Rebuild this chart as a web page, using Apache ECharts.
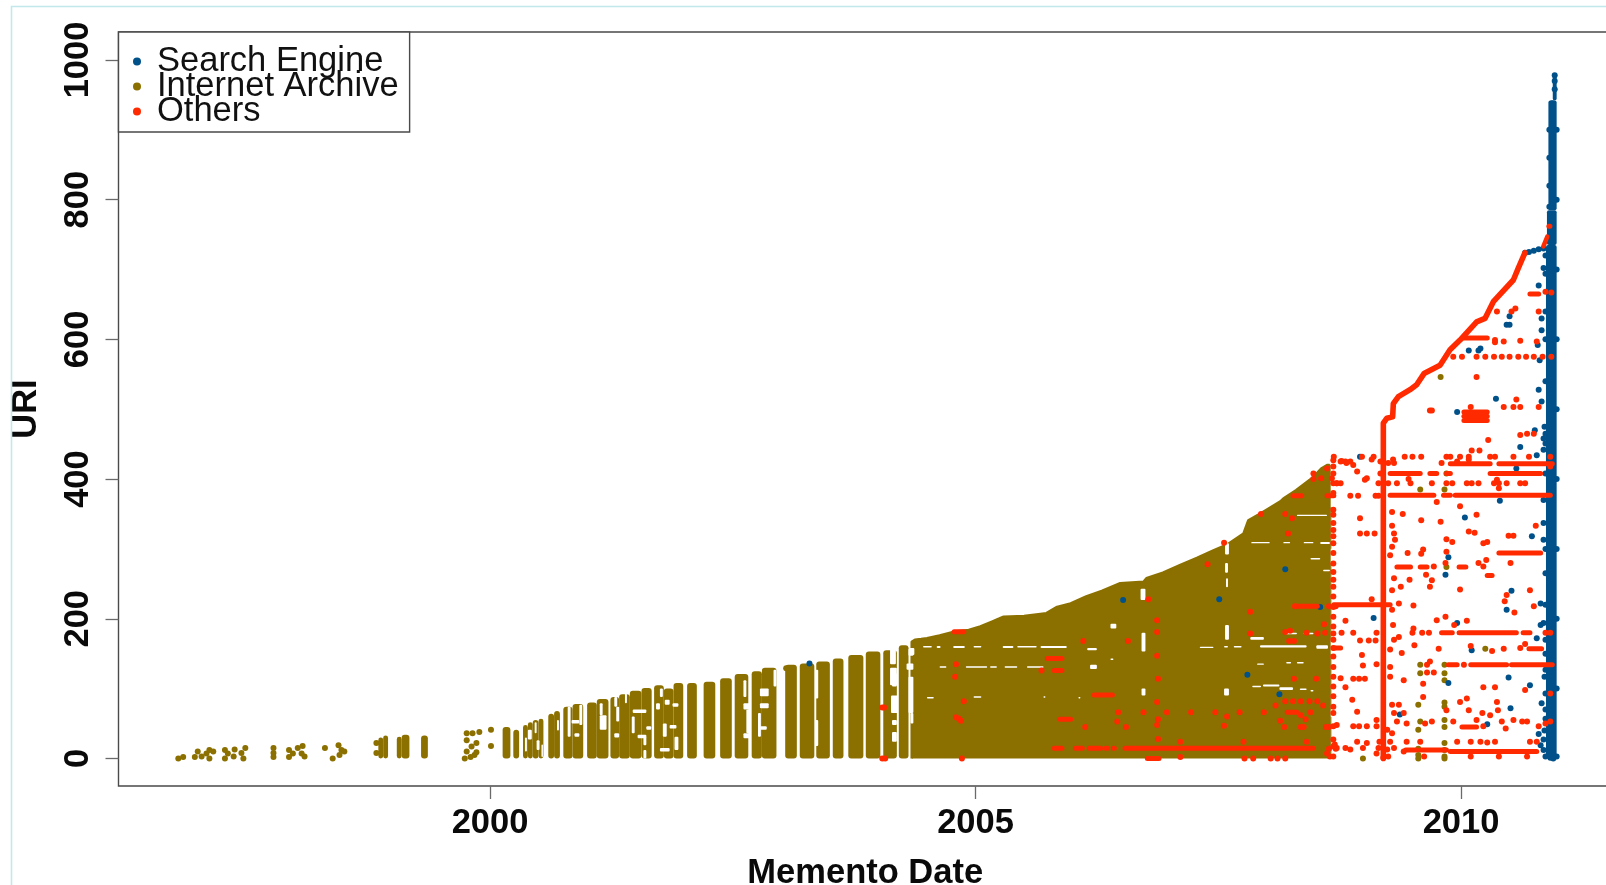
<!DOCTYPE html>
<html>
<head>
<meta charset="utf-8">
<script src="https://cdn.jsdelivr.net/npm/echarts@6/dist/echarts.min.js"></script>
<style>html,body{margin:0;padding:0;background:#fff}#c{width:1606px;height:885px;filter:blur(0.55px)}</style>
</head>
<body>
<div id="c"></div>
<script>
const yearTicks = [2000, 2005, 2010];
const uriTicks = [0, 200, 400, 600, 800, 1000];
const xTitle = 'Memento Date';
const yTitle = 'URI';

// Upper edge of the solid Internet Archive mass: [year, uri]
const archiveEdge = [[2004.343,0],[2004.343,167],[2004.376,170],[2004.44,171],[2004.50,172],[2004.63,176],[2004.77,181],[2004.81,182],[2004.93,184],[2005.05,189],[2005.17,196],[2005.24,200],[2005.29,203],[2005.50,204],[2005.73,208],[2005.84,217],[2005.98,222],[2006.14,232],[2006.30,240],[2006.49,251],[2006.73,253],[2006.76,258],[2006.93,266],[2007.11,277],[2007.28,287],[2007.45,298],[2007.60,307],[2007.76,322],[2007.81,341],[2007.95,352],[2008.14,368],[2008.17,372],[2008.30,384],[2008.48,403],[2008.56,415],[2008.62,420],[2008.645,420],[2008.645,0]];
// Internet Archive strips: [yearFrom, yearTo, uriFrom, uriTo]
const archiveStrips = [
[1998.85,1998.90,0,30],[1998.90,1998.95,0,33],[1999.04,1999.09,0,31],[1999.09,1999.17,0,34],[1999.29,1999.36,0,33],
[2000.13,2000.21,0,45],[2000.24,2000.30,0,41],[2000.34,2000.39,0,48],[2000.39,2000.44,0,52],[2000.44,2000.50,0,55],[2000.50,2000.55,0,57],
[2000.60,2000.66,0,64],[2000.66,2000.72,0,68],[2000.755,2000.85,0,74],[2000.85,2000.96,0,78],[2001.00,2001.10,0,80],[2001.10,2001.22,0,85],[2001.24,2001.33,0,88],[2001.33,2001.44,0,92],[2001.44,2001.56,0,97],[2001.56,2001.665,0,101],
[2001.69,2001.79,0,105],[2001.79,2001.89,0,100],[2001.89,2001.99,0,108],[2002.03,2002.13,0,108],[2002.20,2002.32,0,110],[2002.37,2002.49,0,115],[2002.52,2002.66,0,121],
[2002.695,2002.80,0,125],[2002.80,2002.95,0,130],[2003.04,2003.16,0,134],[2003.19,2003.34,0,136],[2003.36,2003.50,0,139],[2003.53,2003.64,0,143],
[2003.69,2003.845,0,148],[2003.87,2004.02,0,153],[2004.05,2004.19,0,155],[2004.21,2004.31,0,162],
[2008.655,2008.665,2,60],[2008.655,2008.665,70,150],[2008.655,2008.665,170,280],[2008.655,2008.665,300,360]
];
// Gaps seen inside the Internet Archive mass: [yearFrom, yearTo, uriFrom, uriTo]
const archiveGaps = [
[2000.39,2000.43,27,41],[2000.48,2000.51,12,26],[2000.84,2000.92,50,55],[2000.87,2000.92,31,36],[2001.13,2001.20,41,62],[2001.30,2001.33,53,74],[2001.28,2001.33,30,36],[2001.47,2001.61,65,70],[2001.52,2001.61,29,34],[2001.61,2001.66,41,46],[2001.58,2001.61,0,12],[2001.75,2001.85,10,15],[2001.80,2001.85,77,84],[2001.85,2001.92,43,48],[2001.75,2001.78,88,100],
[2000.80,2000.83,31,74],[2000.92,2000.95,48,77],[2001.13,2001.16,62,79],[2001.28,2001.31,74,88],[2001.39,2001.41,79,93],[2001.46,2001.49,36,60],[2001.58,2001.61,19,31],[2001.71,2001.75,70,79],[2001.78,2001.82,31,50],[2001.88,2001.94,74,79],[2001.90,2001.94,12,31],[2000.46,2000.48,36,52],[2000.36,2000.38,10,30],[2000.53,2000.545,2,20],[2000.69,2000.71,40,55],
[2002.78,2002.87,89,100],[2002.78,2002.87,72,79],[2002.61,2002.68,70,79],[2002.61,2002.68,29,36],[2002.78,2002.85,41,46],[2002.61,2002.64,88,112],[2002.64,2002.67,36,70],[2002.92,2002.95,103,127],[2002.76,2002.79,31,65],[2003.35,2003.38,86,127],[2003.35,2003.38,18,55],[2004.14,2004.19,103,122],[2004.14,2004.19,48,55],[2004.14,2004.19,24,38],[2004.32,2004.37,148,158],[2004.29,2004.36,127,136],[2004.33,2004.36,50,65],
[2004.46,2004.55,159,161],[2004.60,2004.64,158,161],[2004.77,2004.89,158,161],[2004.98,2005.06,159,161],[2005.28,2005.39,158,161],[2005.43,2005.63,159,161],[2005.67,2005.94,158,161],[2006.15,2006.25,155,158],[2007.31,2007.45,158,160],[2007.56,2007.60,159,161],[2007.66,2007.74,159,161],[2007.93,2008.41,159,162],[2008.51,2008.63,157,162],
[2004.63,2004.70,130,132],[2004.90,2005.12,130,132],[2005.15,2005.22,130,132],[2005.30,2005.43,130,132],[2005.53,2005.70,130,132],[2006.18,2006.25,128,134],[2006.39,2006.42,141,143],[2007.90,2007.97,134,136],[2008.20,2008.25,136,138],[2008.31,2008.38,136,138],
[2004.50,2004.57,86,88],[2004.98,2005.06,87,89],[2005.70,2005.72,87,89],[2006.06,2006.08,86,88],[2006.71,2006.75,90,100],[2007.56,2007.61,90,100],
[2007.84,2008.03,308,310],[2008.17,2008.24,308,310],[2008.38,2008.48,308,310],[2008.55,2008.65,307,310],[2008.45,2008.55,285,287],[2008.58,2008.65,268,270],[2008.31,2008.62,347,349],
[2007.83,2007.97,170,174],[2008.19,2008.31,178,180],[2008.38,2008.48,178,180],
[2007.85,2007.94,102,104],[2007.96,2008.13,103,106],[2008.13,2008.27,98,102],[2008.34,2008.41,98,100],[2008.45,2008.48,96,98],
[2004.12,2004.18,135,165],[2004.12,2004.19,105,130],[2004.13,2004.20,65,90],[2004.15,2004.18,27,33],[2004.31,2004.36,147,157],[2004.31,2004.36,65,117],
[2006.70,2006.75,227,243],[2006.71,2006.75,153,180],[2006.39,2006.45,186,193],[2007.57,2007.61,292,308],[2007.57,2007.60,266,280],[2007.58,2007.60,245,258],[2007.57,2007.61,170,191]
];
// Scattered Internet Archive points: [year, uri]
const archivePoints = [[1996.79,0],[1996.84,2],[1996.96,2],[1996.99,10],[1997.03,3],[1997.08,7],[1997.11,12],[1997.11,0],[1997.15,10],[1997.27,12],[1997.27,0],[1997.30,7],[1997.37,13],[1997.36,3],[1997.44,8],[1997.46,0],[1997.48,15],[1997.77,15],[1997.77,8],[1997.77,2],[1997.93,12],[1997.93,2],[1997.97,7],[1998.02,15],[1998.06,7],[1998.07,18],[1998.09,3],[1998.30,15],[1998.38,0],[1998.44,19],[1998.47,12],[1998.50,10],[1998.45,5],[1998.83,22],[1998.83,8],
[1999.76,36],[1999.76,26],[1999.81,17],[1999.74,0],[1999.84,5],[1999.89,38],[2000.01,41],[2000.01,18],[1999.82,36],[1999.86,22],[1999.76,10],[1999.80,2],[1999.86,9],
[2003.05,129],[2008.99,0],
[2009.58,385],[2009.83,385],[2009.85,408],[2009.85,274],[2009.58,134],[2009.83,134],[2009.58,122],[2009.83,122],[2009.83,112],[2009.56,77],[2009.83,80],[2009.83,74],[2009.58,53],[2009.83,55],[2009.83,45],[2009.56,41],[2010.25,157],[2009.56,14],[2009.56,5],[2009.56,0],[2009.83,22],[2009.83,12],[2009.83,3],[2009.83,0],[2009.79,546]];

// Search Engine solid column: [yearFrom, yearTo, uriFrom, uriTo]
const searchColumn = [[2010.875,2010.985,0,735],[2010.885,2010.985,735,785],[2010.90,2010.985,785,942],[2010.945,2010.985,942,978]];
// Search Engine points: [year, uri]
const searchPoints = [[2003.29,136],[2006.52,227],[2007.51,228],[2008.19,271],[2007.80,120],[2008.13,92],[2008.55,217],
[2010.80,677],[2010.83,630],[2010.50,633],[2010.47,621],[2010.50,621],[2010.83,613],[2010.79,592],[2010.08,584],[2010.18,584],[2010.20,587],[2010.81,570],[2010.80,528],[2010.83,511],[2010.36,515],[2009.96,496],[2010.76,470],[2010.61,446],[2008.96,432],
[2010.66,724],[2010.70,725],[2010.75,727],[2010.80,729],[2010.85,730],[2010.78,434],[2010.57,415],[2010.40,369],[2010.04,345],[2010.73,318],[2009.87,288],[2009.84,263],[2010.52,240],[2010.47,213],[2010.82,222],[2009.10,201],[2009.96,194],[2010.78,172],[2010.11,155],[2009.87,108],[2010.49,116],[2010.71,105],[2010.51,72],[2010.83,79],[2009.37,63],[2010.27,49],[2010.80,35],[2010.82,19],
[2010.85,442],[2010.87,408],[2010.85,370],[2010.85,337],[2010.85,313],[2010.87,265],[2010.85,194],[2010.82,191],[2010.87,170],[2010.86,117],[2010.87,93],[2010.85,12],[2010.85,27],[2010.87,57],[2010.87,127],[2010.85,702],[2010.87,694],[2010.86,475],[2010.87,465],[2010.85,458],[2010.87,451],[2010.87,720],[2010.87,600],[2010.87,640],[2010.87,540],[2010.87,300],[2010.87,220],[2010.87,150],[2010.87,70],[2010.86,40],[2010.87,3],
[2010.965,978],[2010.965,970],[2010.965,958],[2010.94,938],[2010.91,900],[2010.91,860],[2010.91,820],[2010.91,790],[2010.985,900],[2010.985,800],[2010.985,700],[2010.985,600],[2010.985,500],[2010.985,400],[2010.985,300],[2010.985,200],[2010.985,100],[2010.985,3],[2010.92,1],[2010.95,0]];

// Others: the long rising trail, [year, uri]
const othersTrail = [[2009.20,0],[2009.20,480],[2009.235,487],[2009.296,489],[2009.303,508],[2009.355,518],[2009.475,528],[2009.543,535],[2009.619,551],[2009.784,563],[2009.887,585],[2009.99,599],[2010.161,625],[2010.247,630],[2010.333,654],[2010.539,685],[2010.59,702],[2010.659,724]];
const othersTail = [[2010.848,733],[2010.889,747]];
// Others: dense rows, [yearFrom, yearTo, uri]
const othersRuns = [
[2009.89,2010.30,422],[2010.39,2010.94,422],[2009.27,2009.58,408],[2009.68,2009.75,408],[2009.85,2009.89,408],[2010.30,2010.82,408],
[2009.27,2009.72,377],[2009.82,2009.89,377],[2009.94,2010.92,377],[2008.69,2009.27,220],[2008.29,2008.52,218],
[2009.80,2009.91,180],[2009.98,2010.57,180],[2010.64,2010.71,180],[2010.70,2010.83,157],[2009.87,2009.96,134],[2010.10,2010.47,134],[2010.52,2010.94,134],[2008.69,2008.76,158],
[2010.01,2010.16,45],[2009.43,2009.54,12],[2009.58,2009.85,12],[2009.89,2010.78,10],[2010.39,2010.82,294],[2009.34,2009.48,274],[2009.58,2009.65,274],[2009.98,2010.05,274],[2010.27,2010.32,262],
[2010.03,2010.27,602],[2010.03,2010.27,484],[2010.03,2010.27,490],[2010.03,2010.27,496],[2010.71,2010.80,665],[2010.905,2010.915,762],
[2004.78,2004.88,181.5],[2005.74,2005.89,143],[2005.81,2005.89,126],[2005.87,2005.98,56],[2006.22,2006.41,91],[2008.21,2008.31,66],[2006.77,2006.89,0],[2008.27,2008.36,376],[2008.62,2008.69,376],
[2005.81,2005.89,14.5],[2006.03,2006.10,14.5],[2006.17,2006.29,14.5],[2006.34,2006.36,14.5],[2006.42,2006.43,14.5],[2006.54,2008.48,14.5]
];
// Others: single points, [year, uri]
const othersPoints = [
[2008.76,425],[2008.81,425],[2008.86,425],[2009.80,423],[2008.89,420],[2008.93,411],[2009.01,399],[2009.03,401],[2009.17,425],[2009.17,408],[2009.25,423],[2009.31,423],
[2009.15,394],[2009.25,394],[2009.34,394],[2009.48,394],[2009.70,394],[2009.85,394],[2009.91,394],[2010.06,394],[2010.11,394],[2010.18,394],[2010.34,394],[2010.39,394],[2010.47,394],[2010.61,394],[2010.66,394],[2009.46,400],[2010.37,399],
[2008.86,376],[2008.94,376],[2009.12,376],[2009.15,376],[2008.76,394],[2008.72,394],
[2008.96,344],[2008.96,322],[2009.03,322],[2009.11,322],[2009.29,353],[2009.40,350],[2009.29,333],[2009.31,322],[2009.59,341],[2009.79,339],[2009.99,361],[2010.16,349],[2009.75,367],[2010.39,387],[2010.77,333],[2010.08,325],[2010.14,323],[2009.85,314],[2009.91,310],[2010.49,319],[2010.54,319],[2010.23,308],[2010.27,310],[2009.61,299],[2009.59,293],[2009.85,296],[2009.32,313],[2009.29,303],[2009.27,291],[2009.45,294],[2009.72,275],[2009.84,280],[2010.18,280],[2010.23,275],[2010.26,284],[2010.51,280],[2009.64,263],[2009.70,255],[2009.68,246],[2009.47,256],[2009.38,246],[2009.31,258],[2009.29,241],[2009.99,242],[2010.47,234],[2010.45,225],[2010.71,241],[2010.75,218],[2010.55,209],[2009.08,228],[2009.36,222],[2009.51,219],[2009.29,213],
[2008.81,197],[2009.75,198],[2009.84,203],[2010.06,197],[2009.51,186],[2009.30,191],[2009.93,191],[2008.77,180],[2008.89,180],[2009.13,180],[2009.50,180],[2009.60,180],[2009.67,180],[2010.87,180],[2010.92,180],
[2008.96,169],[2009.05,169],[2009.12,169],[2009.31,170],[2009.36,174],[2009.52,162],[2009.77,157],[2010.10,161],[2010.32,154],[2010.44,157],[2010.61,158],[2010.66,164],[2009.27,156],[2009.39,151],[2008.98,148],
[2008.99,133],[2009.13,135],[2009.27,131],[2010.03,134],[2009.68,139],[2009.65,134],[2008.89,114],[2008.95,114],[2009.01,114],[2008.76,115],[2008.81,102],[2008.88,84],[2008.93,67],[2009.27,117],[2009.41,112],[2009.61,107],[2009.65,123],[2009.72,123],[2010.23,102],[2010.35,102],[2010.66,98],[2009.61,88],[2010.06,86],[2009.99,81],[2010.37,81],[2010.08,69],[2010.38,69],[2010.22,65],[2010.30,62],[2010.54,55],[2010.63,53],[2010.68,53],[2009.85,69],[2009.92,53],[2009.03,46],[2008.89,46],[2008.95,46],[2009.13,46],[2009.36,77],[2009.41,65],[2009.34,53],[2009.44,50],[2009.70,53],[2009.63,50],[2010.16,55],[2010.23,46],[2010.42,53],[2010.46,43],[2010.80,46],[2010.87,50],[2008.72,48],[2009.31,65],[2009.29,77],[2010.92,93],[2010.92,53],
[2008.72,15],[2008.81,15],[2008.86,13],[2008.93,24],[2009.03,22],[2008.99,15],[2009.13,7],[2009.31,15],[2009.27,24],[2009.29,36],[2009.24,41],[2009.13,55],[2009.41,10],[2009.44,24],[2009.58,24],[2009.96,24],[2010.10,24],[2010.20,24],[2010.27,23],[2010.35,24],[2010.71,24],[2010.78,24],[2009.62,3],[2010.10,3],[2010.39,3],[2010.68,3],[2009.20,1],[2008.65,3],[2009.16,24],[2009.24,13],[2009.25,3],[2009.15,15],
[2007.56,309],[2007.39,278],[2007.94,350],[2008.19,350],[2008.26,344],[2008.22,322],[2008.48,400],[2008.48,408],[2008.56,401],[2008.62,415],[2008.67,401],[2008.72,394],[2008.77,426],[2008.82,423],
[2006.11,168],[2006.57,168],[2004.80,135],[2004.79,117],[2004.88,82],[2004.80,59],[2004.83,57],[2004.85,54],[2004.04,73],[2004.06,73],[2004.04,0],[2004.07,0],[2004.86,0],[2005.68,126],[2006.47,66],[2006.46,53],[2006.55,45],[2006.13,45],
[2006.87,198],[2006.87,181],[2006.87,147],[2006.88,114],[2006.87,81],[2006.88,56],[2006.87,48],[2006.88,28],[2006.78,228],[2007.83,210],[2007.83,179],
[2008.29,218],[2008.64,218],[2008.71,218],[2008.19,181],[2008.24,183],[2008.41,180],[2008.52,179],[2008.60,180],[2008.23,168],[2008.28,168],[2008.59,192],[2008.28,114],[2008.51,114],[2008.09,76],[2008.19,82],[2008.27,82],[2008.35,82],[2008.44,82],[2008.52,82],[2008.58,76],[2008.35,62],[2008.40,56],[2008.14,54],[2008.18,45],[2008.35,45],[2008.38,45],[2007.59,60],[2007.56,47],
[2006.73,66],[2006.97,66],[2007.22,66],[2007.47,66],[2007.72,66],[2007.97,66],[2008.45,66],[2007.11,24],[2007.76,24],[2008.41,24],[2007.11,2],[2007.77,0],[2007.86,0],[2008.04,0],[2008.11,0],[2008.19,0],
[2008.64,45],[2008.61,45],[2008.64,14],[2008.71,14],[2008.70,20],[2008.62,7],
[2008.685,427],[2008.685,418],[2008.685,408],[2008.685,394],[2008.685,380],[2008.685,356],[2008.685,349],[2008.685,337],[2008.685,327],[2008.685,318],[2008.685,308],[2008.685,294],[2008.685,279],[2008.685,267],[2008.685,256],[2008.685,246],[2008.685,232],[2008.685,217],[2008.685,203],[2008.685,189],[2008.685,179],[2008.685,170],[2008.685,158],[2008.685,146],[2008.685,131],[2008.685,117],[2008.685,103],[2008.685,89],[2008.685,74],[2008.685,65],[2008.685,46],[2008.685,27],[2008.685,17],[2008.685,3],
[2010.87,668],[2010.93,667],[2010.56,644],[2010.52,640],[2010.37,640],[2010.80,640],[2010.35,599],[2010.44,597],[2010.61,598],[2010.78,597],[2010.35,596],
[2009.92,575],[2010.01,575],[2010.16,575],[2010.25,575],[2010.34,575],[2010.42,575],[2010.50,575],[2010.59,575],[2010.67,575],[2010.75,575],[2010.84,575],[2010.93,575],
[2010.16,546],[2009.68,498],[2009.70,498],[2010.10,503],[2010.44,503],[2010.54,503],[2010.61,503],[2010.57,514],[2010.80,503],[2010.61,463],[2010.68,465],[2010.75,465],[2010.28,456],[2010.11,441],[2010.19,441],
[2008.69,432],[2008.98,432],[2009.10,432],[2009.42,432],[2009.50,432],[2009.59,432],[2009.85,432],[2009.89,432],[2009.99,432],[2010.08,432],[2010.30,432],[2010.35,432],[2010.54,432],[2010.70,432],[2010.92,432],[2010.08,428],[2009.08,428],[2009.30,428],[2009.96,425],[2010.92,418]
];

const BLUE = '#00518a', OLIVE = '#8b7000', RED = '#ff2a00', FONT = 'Liberation Sans';

function bandSeries(name, rows, color, radius, z) {
  return { name, type: 'custom', z, silent: true, clip: true, animation: false, data: rows,
    encode: { x: [0, 1], y: [2, 3] },
    renderItem(p, api) {
      const a = api.coord([api.value(0), api.value(3)]);
      const b = api.coord([api.value(1), api.value(2)]);
      return { type: 'rect', shape: { x: a[0], y: a[1], width: b[0] - a[0], height: b[1] - a[1], r: radius }, style: { fill: color } };
    } };
}
function runSeries(name, rows, color, width, z) {
  return { name, type: 'custom', z, silent: true, clip: true, animation: false, data: rows,
    encode: { x: [0, 1], y: 2 },
    renderItem(p, api) {
      const a = api.coord([api.value(0), api.value(2)]);
      const b = api.coord([api.value(1), api.value(2)]);
      return { type: 'line', shape: { x1: a[0], y1: a[1], x2: b[0], y2: b[1] }, style: { stroke: color, lineWidth: width, lineCap: 'round' } };
    } };
}
function dots(name, rows, color, z) {
  return { name, type: 'scatter', z, data: rows, symbol: 'circle', symbolSize: 6, silent: true, animation: false, itemStyle: { color, opacity: 1 } };
}
function trail(name, rows, color, width, z) {
  return { name, type: 'line', z, data: rows, symbol: 'none', silent: true, animation: false, lineStyle: { color, width, cap: 'round', join: 'round' } };
}

const chart = echarts.init(document.getElementById('c'));
chart.setOption({
  animation: false,
  backgroundColor: '#fff',
  graphic: [{ type: 'polyline', silent: true, z: 30, shape: { points: [[11.5, 885], [11.5, 6.5], [1606, 6.5]] }, style: { fill: 'none', stroke: '#c4e7ec', lineWidth: 1.6 } }],
  grid: { left: 118.5, top: 32, width: 1493.5, height: 754, outerBoundsMode: 'none', containLabel: false, show: true, borderColor: '#4a4a4a', borderWidth: 1.4, backgroundColor: '#fff' },
  xAxis: {
    type: 'value', min: 1996.174, max: 2011.555, name: xTitle, nameLocation: 'middle', nameGap: 70,
    nameTextStyle: { fontFamily: FONT, fontWeight: 'bold', fontSize: 34.5, color: '#0a0a0a' },
    splitLine: { show: false }, axisLine: { show: false, onZero: false },
    axisTick: { show: true, length: 13, customValues: yearTicks, lineStyle: { color: '#6a6a6a', width: 1.3 } },
    axisLabel: { customValues: yearTicks, formatter: v => String(v), margin: 20, fontFamily: FONT, fontWeight: 'bold', fontSize: 34.5, color: '#0a0a0a' }
  },
  yAxis: {
    type: 'value', min: -39.4, max: 1040, name: yTitle, nameLocation: 'middle', nameGap: 75,
    nameTextStyle: { fontFamily: FONT, fontWeight: 'bold', fontSize: 34.5, color: '#0a0a0a' },
    splitLine: { show: false }, axisLine: { show: false, onZero: false },
    axisTick: { show: true, length: 13, customValues: uriTicks, lineStyle: { color: '#6a6a6a', width: 1.3 } },
    axisLabel: { customValues: uriTicks, formatter: v => String(v), rotate: 90, margin: 23, fontFamily: FONT, fontWeight: 'bold', fontSize: 34.5, color: '#0a0a0a' }
  },
  legend: {
    left: 118.5, top: 32, orient: 'vertical', selectedMode: false, z: 20,
    data: [{ name: 'Search Engine', icon: 'circle' }, { name: 'Internet Archive', icon: 'circle' }, { name: 'Others', icon: 'circle' }],
    itemWidth: 8, itemHeight: 8, itemGap: -10, padding: [12, 11, 3, 14.5], backgroundColor: '#fff', borderColor: '#4a4a4a', borderWidth: 1.4,
    textStyle: { fontFamily: FONT, fontSize: 34.5, color: '#111', lineHeight: 25, padding: [0, 0, 0, 11] }
  },
  series: [
    { name: 'archive mass', type: 'line', z: 1, data: archiveEdge, symbol: 'none', silent: true, animation: false, lineStyle: { color: OLIVE, width: 2.5 }, areaStyle: { color: OLIVE, opacity: 1 } },
    bandSeries('archive strips', archiveStrips, OLIVE, 3, 2),
    bandSeries('archive gaps', archiveGaps, '#fff', 1, 3),
    dots('Internet Archive', archivePoints, OLIVE, 4),
    bandSeries('search column', searchColumn, BLUE, 2, 5),
    dots('Search Engine', searchPoints, BLUE, 6),
    trail('others trail', othersTrail, RED, 5.6, 7),
    trail('others tail', othersTail, RED, 4.5, 7),
    runSeries('others runs', othersRuns, RED, 5, 7),
    dots('Others', othersPoints, RED, 8)
  ]
});
</script>
</body>
</html>
